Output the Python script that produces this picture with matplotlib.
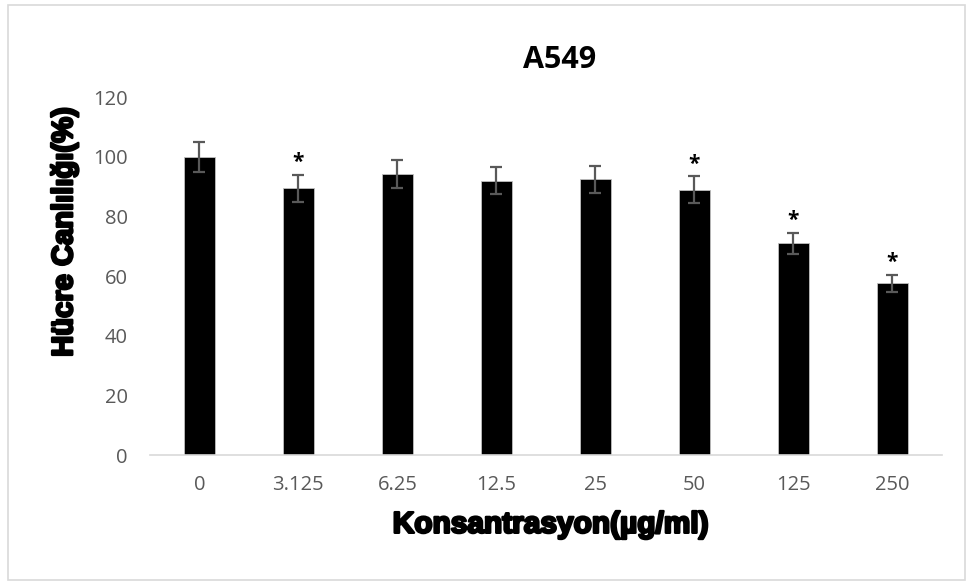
import matplotlib
matplotlib.use("Agg")
import matplotlib.pyplot as plt
import matplotlib.patheffects as pe
from matplotlib.patches import Rectangle

categories = ["0", "3.125", "6.25", "12.5", "25", "50", "125", "250"]
viability = [100, 89.5, 94.2, 92.0, 92.5, 89.0, 71.0, 57.6]
errors = [5.0, 4.5, 4.7, 4.5, 4.5, 4.4, 3.5, 2.8]
significant = [False, True, False, False, False, True, True, True]
yticks = [0, 20, 40, 60, 80, 100, 120]

plt.rcParams['font.family'] = ['Open Sans', 'DejaVu Sans']

fig = plt.figure(figsize=(9.73, 5.85), dpi=100)
ax = fig.add_axes([0.154, 0.222, 0.814, 0.612])

x = list(range(len(categories)))
ax.bar(x, viability, width=0.31, color="black", edgecolor="#bfbfbf", linewidth=0.6, zorder=2)
ax.errorbar(x, viability, yerr=errors, fmt="none", ecolor="#595959",
            elinewidth=1.6, capsize=4.5, capthick=1.6, zorder=3)
for xi, v, e, s in zip(x, viability, errors, significant):
    if s:
        ax.text(xi, v + e + 0.6, "*", ha="center", va="bottom",
                fontsize=15, color="black", fontweight="bold")

ax.set_xlim(-0.5, len(categories) - 0.5)
ax.set_ylim(0, 120)
ax.set_yticks(yticks)
ax.set_xticks(x)
ax.set_xticklabels(categories)
ax.tick_params(axis="both", length=0, labelsize=14.5, labelcolor="#595959")
ax.tick_params(axis="y", pad=16)
ax.tick_params(axis="x", pad=14)
for side in ["top", "right", "left"]:
    ax.spines[side].set_visible(False)
ax.spines["bottom"].set_color("#d9d9d9")
ax.spines["bottom"].set_linewidth(1.2)

heavy = [pe.withStroke(linewidth=1.8, foreground="black")]
label_font = ['Liberation Sans', 'DejaVu Sans']
fig.text(0.575, 0.897, "A549", ha="center", va="center", fontsize=22,
         fontweight="bold", color="black")
fig.text(0.066, 0.603, "Hücre Canlılığı(%)", rotation=90, ha="center", va="center",
         fontsize=21, fontweight="bold", color="black", family=label_font,
         path_effects=heavy)
fig.text(0.566, 0.103, "Konsantrasyon(µg/ml)", ha="center", va="center",
         fontsize=21.5, fontweight="bold", color="black", family=label_font,
         path_effects=heavy)

fig.patches.append(Rectangle((0.008, 0.008), 0.984, 0.984, transform=fig.transFigure,
                             fill=False, edgecolor="#d9d9d9", linewidth=1.2))

fig.savefig("out.png", dpi=100, facecolor="white")
